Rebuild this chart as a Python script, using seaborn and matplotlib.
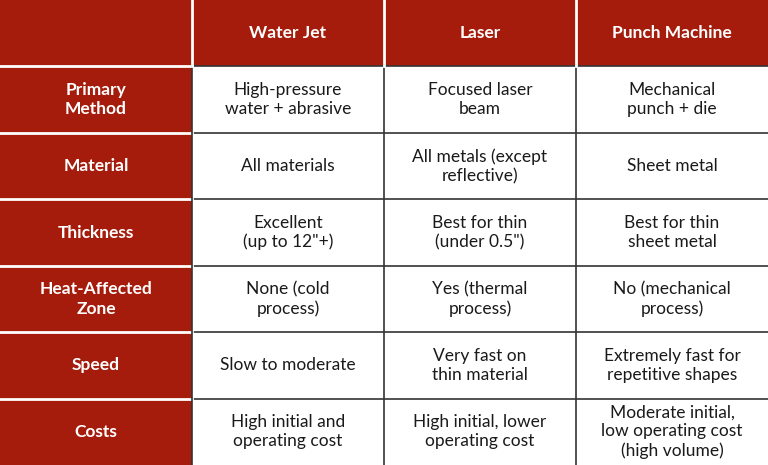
import numpy as np
import matplotlib
matplotlib.use("Agg")
import matplotlib.pyplot as plt
import seaborn as sns
from matplotlib.colors import ListedColormap

columns = ["", "Water Jet", "Laser", "Punch Machine"]
row_labels = ["Primary\nMethod", "Material", "Thickness", "Heat-Affected\nZone", "Speed", "Costs"]
water_jet = ["High-pressure\nwater + abrasive", "All materials", "Excellent\n(up to 12\"+)",
             "None (cold\nprocess)", "Slow to moderate", "High initial and\noperating cost"]
laser = ["Focused laser\nbeam", "All metals (except\nreflective)", "Best for thin\n(under 0.5\")",
         "Yes (thermal\nprocess)", "Very fast on\nthin material", "High initial, lower\noperating cost"]
punch = ["Mechanical\npunch + die", "Sheet metal", "Best for thin\nsheet metal",
         "No (mechanical\nprocess)", "Extremely fast for\nrepetitive shapes",
         "Moderate initial,\nlow operating cost\n(high volume)"]

nrows, ncols = len(row_labels) + 1, len(columns)
texts = [columns] + [[row_labels[i], water_jet[i], laser[i], punch[i]] for i in range(len(row_labels))]
mask_vals = np.zeros((nrows, ncols))
mask_vals[0, :] = 1
mask_vals[:, 0] = 1

red = "#A51C0C"
fig = plt.figure(figsize=(7.68, 4.65), dpi=100)
ax = fig.add_axes([0, 0, 1, 1])
sns.heatmap(mask_vals, cmap=ListedColormap(["white", red]), cbar=False,
            linewidths=0, ax=ax, xticklabels=False, yticklabels=False)

# grid lines
for r in range(1, nrows):
    ax.plot([1, ncols], [r, r], color="#333333", lw=1.2)
    ax.plot([0, 1], [r, r], color="white", lw=2)
for c in range(1, ncols):
    ax.plot([c, c], [1, nrows], color="#333333", lw=1.2)
    ax.plot([c, c], [0, 1], color="white", lw=2)
ax.plot([1, 1], [1, nrows], color="white", lw=0)

for r in range(nrows):
    for c in range(ncols):
        t = texts[r][c]
        if not t:
            continue
        header = (r == 0 or c == 0)
        ax.text(c + 0.5, r + 0.5, t, ha="center", va="center",
                fontsize=12.5, family="Lato", linespacing=1.25,
                fontweight="bold" if header else "normal",
                color="white" if header else "#1a1a1a")
ax.set_xlim(0, ncols)
ax.set_ylim(nrows, 0)
ax.axis("off")
fig.savefig("out.png", dpi=100)
